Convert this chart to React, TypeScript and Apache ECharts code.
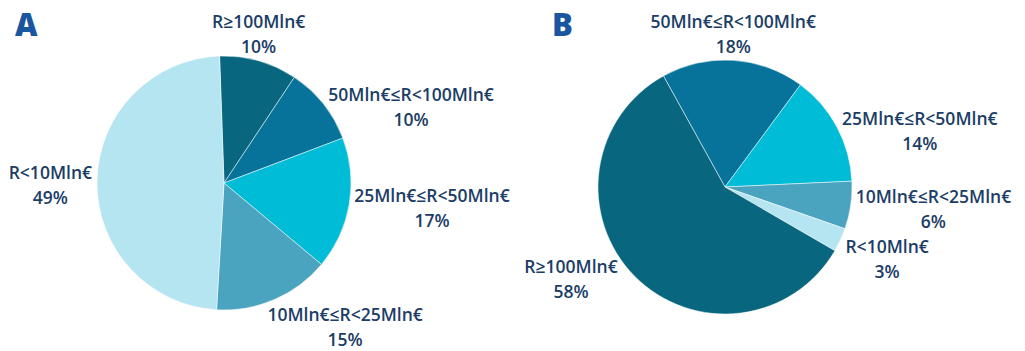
import React, { useEffect, useRef } from "react";
import * as echarts from "echarts";

const categoriesA = ["R≥100Mln€", "50Mln€≤R<100Mln€", "25Mln€≤R<50Mln€", "10Mln€≤R<25Mln€", "R<10Mln€"];
const valuesA = [10, 10, 17, 15, 49];
const categoriesB = ["50Mln€≤R<100Mln€", "25Mln€≤R<50Mln€", "10Mln€≤R<25Mln€", "R<10Mln€", "R≥100Mln€"];
const valuesB = [18, 14, 6, 3, 58];
const titles = ["A", "B"];

const colorMap: Record<string, string> = {
  "R≥100Mln€": "#08667f",
  "50Mln€≤R<100Mln€": "#08739a",
  "25Mln€≤R<50Mln€": "#00bcd7",
  "10Mln€≤R<25Mln€": "#4aa3bf",
  "R<10Mln€": "#b5e5f0",
};

const RADIUS = 127;
const TEXT = "#1b3d66";
const FONT = "'Open Sans', 'Noto Sans', sans-serif";

function makeLabelLayout(cx: number, cy: number, startAngle: number, values: number[]) {
  const total = values.reduce((s, v) => s + v, 0);
  const mids: number[] = [];
  let a = startAngle;
  values.forEach((v) => {
    const span = (v / total) * 360;
    mids.push(a - span / 2);
    a -= span;
  });
  const boxes: Record<number, { x0: number; x1: number; y0: number; y1: number; y: number }> = {};
  return (params: any) => {
    const i = params.dataIndex;
    const ang = (mids[i] * Math.PI) / 180;
    const dx = Math.cos(ang);
    const dy = -Math.sin(ang);
    const px = cx + RADIUS * dx;
    const py = cy + RADIUS * dy;
    const w = params.labelRect.width;
    const h = params.labelRect.height;
    let x = px;
    let y = py + 3;
    const horiz = Math.abs(dx) > 0.35;
    const vert = Math.abs(dy) > 0.9;
    if (horiz) x = px + Math.sign(dx) * (vert ? w / 2 - 7 : w / 2 + 5);
    if (vert) y = py + Math.sign(dy) * (h / 2 + 2);
    const prev = boxes[i - 1];
    if (prev) {
      const xo = x - w / 2 < prev.x1 && x + w / 2 > prev.x0;
      const yo = y - h / 2 < prev.y1 && y + h / 2 > prev.y0;
      if (xo && yo) {
        if (y >= prev.y) y = prev.y1 + h / 2;
        else y = prev.y0 - h / 2;
      }
    }
    if (horiz && !vert) {
      // keep the wide first line clear of the pie
      const ny = Math.min(Math.max(cy, y - h / 2 + 4), y - 3);
      const dyy = ny - cy;
      const need = Math.sqrt(Math.max(0, RADIUS * RADIUS - dyy * dyy)) + 2;
      const edge = x - Math.sign(dx) * (w / 2);
      if (Math.abs(edge - cx) < need) x = cx + Math.sign(dx) * (need + w / 2);
    }
    boxes[i] = { x0: x - w / 2, x1: x + w / 2, y0: y - h / 2, y1: y + h / 2, y };
    return { x, y, align: "center", verticalAlign: "middle" };
  };
}

function pieSeries(cats: string[], vals: number[], center: [number, number], startAngle: number) {
  return {
    type: "pie",
    radius: RADIUS,
    center,
    startAngle,
    clockwise: true,
    silent: true,
    avoidLabelOverlap: false,
    data: cats.map((c, i) => ({ name: c, value: vals[i], itemStyle: { color: colorMap[c] } })),
    itemStyle: { borderColor: "#ffffff", borderWidth: 0.5 },
    label: {
      show: true,
      position: "outside",
      formatter: "{b}\n{c}%",
      color: TEXT,
      fontFamily: FONT,
      fontWeight: 600,
      fontSize: 17.5,
      lineHeight: 25,
      align: "center",
    },
    labelLine: { show: false },
    labelLayout: makeLabelLayout(center[0], center[1], startAngle, vals),
  };
}

export default function App() {
  const ref = useRef<HTMLDivElement>(null);
  useEffect(() => {
    document.body.style.margin = "0";
    const chart = echarts.init(ref.current!, null, { renderer: "svg" });
    const titleStyle = {
      color: "#1a56a0",
      fontSize: 31,
      fontWeight: 900,
      fontFamily: "'Open Sans', 'DejaVu Sans', sans-serif",
    };
    chart.setOption({
      animation: false,
      backgroundColor: "#ffffff",
      title: [
        { text: titles[0], left: 10, top: 3, textStyle: titleStyle },
        { text: titles[1], left: 547, top: 3, textStyle: titleStyle },
      ],
      series: [
        pieSeries(categoriesA, valuesA, [224, 183], 92),
        pieSeries(categoriesB, valuesB, [725, 187], 119),
      ],
    });
    return () => chart.dispose();
  }, []);
  return <div ref={ref} style={{ width: 1025, height: 351 }} />;
}
